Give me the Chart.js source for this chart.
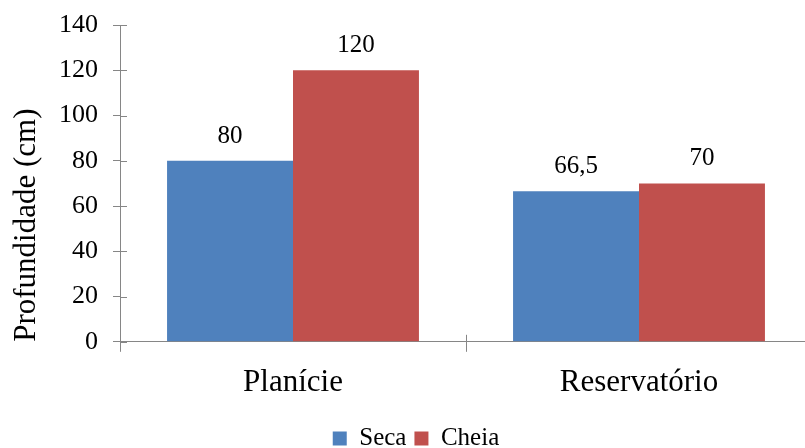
<!DOCTYPE html>
<html>
<head>
<meta charset="utf-8">
<script src="https://cdn.jsdelivr.net/npm/chart.js@4/dist/chart.umd.min.js"></script>
<style>
  html, body { margin: 0; padding: 0; background: #ffffff; }
  #wrap { width: 805px; height: 448px; overflow: hidden; }
  canvas { display: block; }
</style>
</head>
<body>
<div id="wrap"><canvas id="c" width="830" height="448"></canvas></div>
<script>
const categories = ['Planície', 'Reservatório'];
const seca = [80, 66.5];
const cheia = [120, 70];
const seriesNames = ['Seca', 'Cheia'];
const yTitle = 'Profundidade (cm)';
const yMin = 0, yMax = 140, yStep = 20;

const AXIS = '#868686';
const FONT = '"Liberation Serif", "Times New Roman", serif';

const fmt = v => String(v).replace('.', ',');

const dataLabels = {
  id: 'dataLabels',
  afterDatasetsDraw(chart) {
    const ctx = chart.ctx;
    ctx.save();
    ctx.fillStyle = '#000';
    ctx.font = '25px ' + FONT;
    ctx.textAlign = 'center';
    ctx.textBaseline = 'alphabetic';
    chart.data.datasets.forEach((ds, di) => {
      chart.getDatasetMeta(di).data.forEach((el, i) => {
        ctx.fillText(fmt(ds.data[i]), el.x, el.y - 18);
      });
    });
    ctx.restore();
  }
};

const innerTicks = {
  id: 'innerTicks',
  afterDraw(chart) {
    const ctx = chart.ctx;
    const ys = chart.scales.y, xs = chart.scales.x;
    const a = chart.chartArea;
    ctx.save();
    ctx.strokeStyle = AXIS;
    ctx.lineWidth = 1;
    ctx.beginPath();
    ys.ticks.forEach((t, i) => {
      const y = Math.round(ys.getPixelForTick(i)) + 0.5;
      ctx.moveTo(a.left, y);
      ctx.lineTo(a.left + 7, y);
    });
    const n = xs.ticks.length;
    for (let i = 0; i <= n; i++) {
      const x = Math.round(a.left + (a.right - a.left) * i / n) + 0.5;
      ctx.moveTo(x, a.bottom);
      ctx.lineTo(x, a.bottom - 7);
    }
    ctx.stroke();
    ctx.restore();
  }
};

new Chart(document.getElementById('c'), {
  type: 'bar',
  data: {
    labels: categories,
    datasets: [
      { label: seriesNames[0], data: seca, backgroundColor: '#4F81BD', borderWidth: 0 },
      { label: seriesNames[1], data: cheia, backgroundColor: '#C0504D', borderWidth: 0 }
    ]
  },
  options: {
    responsive: false,
    animation: false,
    devicePixelRatio: 1,
    layout: { padding: { left: 20, right: 18, top: 25, bottom: -13 } },
    datasets: { bar: { categoryPercentage: 0.728, barPercentage: 1 } },
    plugins: {
      legend: {
        position: 'bottom',
        labels: {
          color: '#000',
          font: { family: FONT, size: 25 },
          boxWidth: 14,
          boxHeight: 14,
          padding: 8
        }
      },
      tooltip: { enabled: false }
    },
    scales: {
      x: {
        afterFit(scale) { scale.height += 5; },
        grid: { display: true, drawOnChartArea: false, color: AXIS, tickLength: 10, offset: true },
        border: { display: true, color: AXIS, width: 1 },
        ticks: { color: '#000', font: { family: FONT, size: 31 }, padding: 12 }
      },
      y: {
        min: yMin, max: yMax,
        afterFit(scale) { scale.width = 100; scale.paddingTop = 0; scale.paddingBottom = 0; },
        grid: { display: true, drawOnChartArea: false, color: AXIS, tickLength: 7 },
        border: { display: true, color: AXIS, width: 1 },
        ticks: { stepSize: yStep, color: '#000', font: { family: FONT, size: 26 }, padding: 15 },
        title: {
          display: true, text: yTitle, color: '#000', align: 'start',
          font: { family: FONT, size: 31, lineHeight: 1 },
          padding: { top: -9, bottom: 0 }
        }
      }
    }
  },
  plugins: [dataLabels, innerTicks]
});
</script>
</body>
</html>
